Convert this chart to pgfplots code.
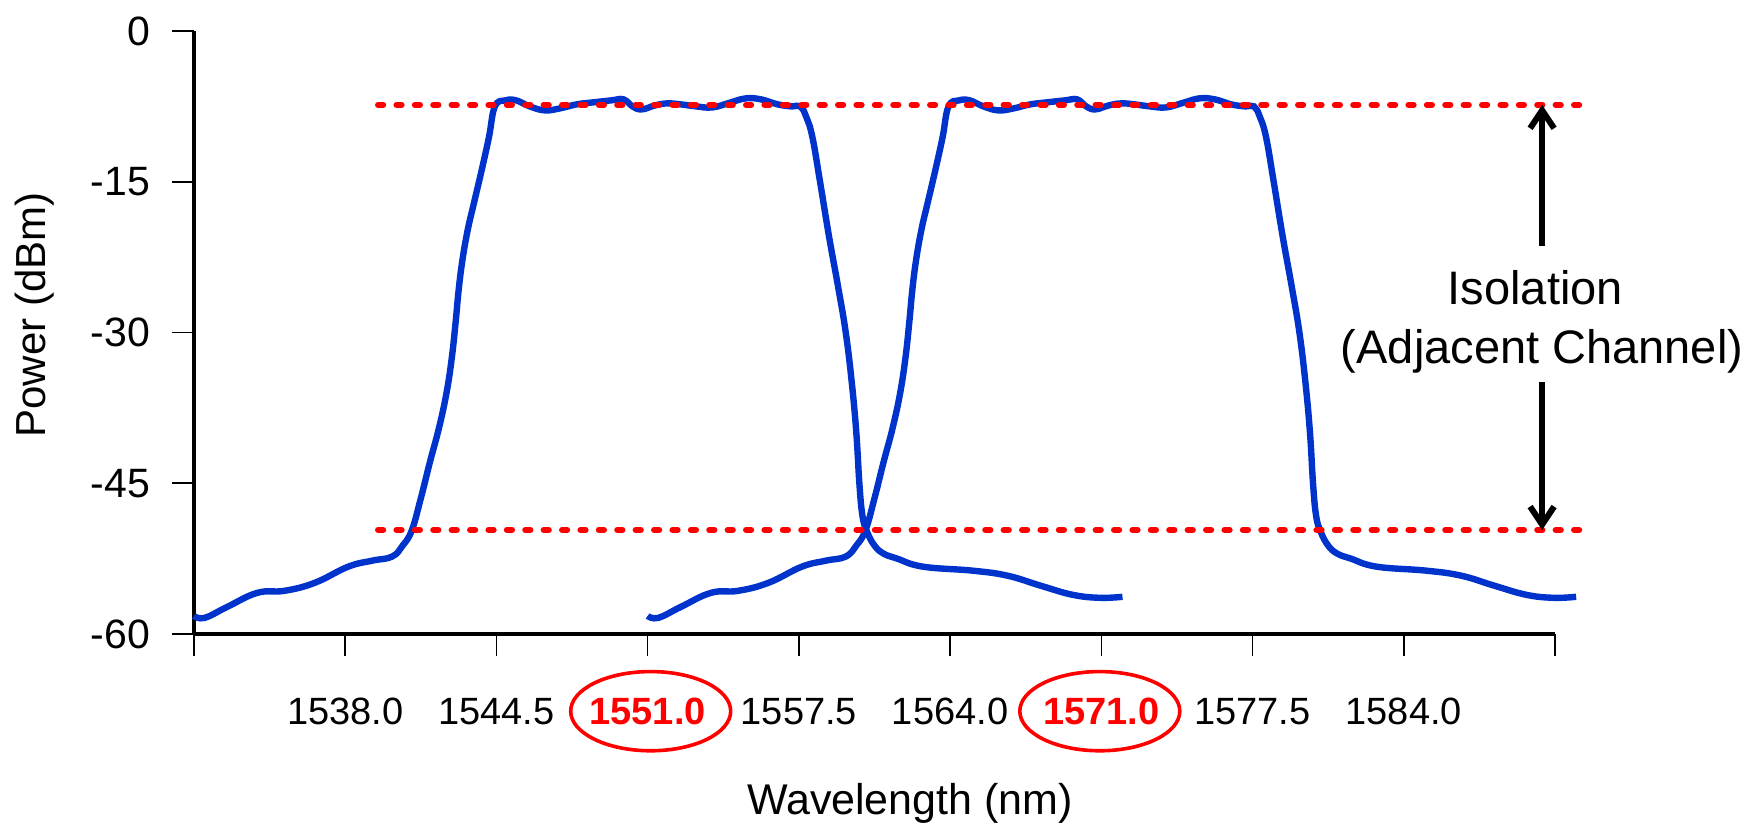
\documentclass[border=0pt]{standalone}
\usepackage{fontspec}
\setmainfont{Liberation Sans}
\usepackage{pgfplots}
\pgfplotsset{compat=1.18}
\usepackage{pgfplotstable}
\usetikzlibrary{arrows.meta}
\definecolor{curveblue}{RGB}{0,51,204}

% channel spectrum, x in tick units (one unit per tick), y in dBm
\pgfplotstableread{
u db
0.00 -58.2
0.07 -58.4
0.22 -57.3
0.42 -55.9
0.60 -55.7
0.80 -54.9
1.02 -53.3
1.18 -52.7
1.31 -52.3
1.38 -51.2
1.44 -49.7
1.50 -46.5
1.56 -42.9
1.62 -39.5
1.67 -36.0
1.705 -32.5
1.73 -29.0
1.75 -25.8
1.775 -22.8
1.81 -19.8
1.85 -17.2
1.90 -14.0
1.95 -10.6
1.99 -7.5
2.06 -6.9
2.13 -6.9
2.22 -7.5
2.32 -7.9
2.42 -7.7
2.53 -7.3
2.64 -7.1
2.76 -6.9
2.84 -6.8
2.90 -7.5
2.96 -7.8
3.05 -7.4
3.13 -7.2
3.22 -7.3
3.32 -7.5
3.43 -7.6
3.55 -7.1
3.65 -6.7
3.75 -6.8
3.86 -7.3
3.95 -7.5
4.01 -7.5
4.05 -8.6
4.09 -10.6
4.14 -15.0
4.20 -20.5
4.26 -25.5
4.31 -30.0
4.35 -35.0
4.38 -40.0
4.40 -45.0
4.42 -48.2
4.45 -49.8
4.50 -51.2
4.56 -52.0
4.65 -52.5
4.82 -53.3
5.15 -53.7
5.38 -54.2
5.60 -55.2
5.81 -56.1
5.99 -56.4
6.14 -56.3
}\chA

\begin{document}
\begin{tikzpicture}
\begin{axis}[
  at={(0,0)}, anchor=south west,
  scale only axis, width=340.25pt, height=150.75pt,
  xmin=0, xmax=9, ymin=-60, ymax=0,
  axis x line*=bottom, axis y line*=left,
  axis line style={line width=1pt, -},
  tick align=outside, major tick length=5.5pt,
  tick style={line width=0.4pt, black},
  xtick={0,1,2,3,4,5,6,7,8,9},
  xticklabels={,1538.0,1544.5,{\bfseries\color{red}1551.0},1557.5,1564.0,{\bfseries\color{red}1571.0},1577.5,1584.0,},
  ytick={-60,-45,-30,-15,0},
  yticklabels={-60,-45,-30,-15,0},
  x tick label style={font=\fontsize{9.5}{11}\selectfont, anchor=base, inner sep=0pt, yshift=-17.2pt},
  y tick label style={font=\fontsize{10.25}{12}\selectfont, anchor=east, inner sep=0pt, xshift=-5.3pt},
  clip=false,
  xlabel={Wavelength (nm)}, ylabel={Power (dBm)},
  xlabel style={at={(axis description cs:0.5261,-0.2803)}, anchor=center, inner sep=0pt, font=\fontsize{10.75}{12}\selectfont},
  ylabel style={at={(axis description cs:-0.1168,0.529)}, anchor=center, inner sep=0pt, font=\fontsize{10.5}{12}\selectfont},
]
\addplot[curveblue, line width=1.6pt, smooth, tension=0.7] table[x=u, y=db] {\chA};
\addplot[curveblue, line width=1.6pt, smooth, tension=0.7] table[x expr=\thisrow{u}+3, y=db] {\chA};

\draw[red, line width=1.5pt, line cap=round, dash pattern=on 1.3pt off 3.3pt] (axis cs:1.217,-7.35) -- (axis cs:9.19,-7.35);
\draw[red, line width=1.5pt, line cap=round, dash pattern=on 1.3pt off 3.3pt] (axis cs:1.217,-49.65) -- (axis cs:9.19,-49.65);

\draw[black, line width=1.5pt, -{Straight Barb[length=4.5pt,width=6pt]}] (axis cs:8.915,-21.35) -- (axis cs:8.915,-7.35);
\draw[black, line width=1.5pt, -{Straight Barb[length=4.5pt,width=6pt]}] (axis cs:8.915,-34.96) -- (axis cs:8.915,-49.65);

\node[anchor=base, inner sep=0pt, font=\fontsize{11.75}{14}\selectfont] at (axis cs:8.87,-27.21) {Isolation};
\node[anchor=base, inner sep=0pt, font=\fontsize{11.75}{14}\selectfont] at (axis cs:8.915,-33.07) {(Adjacent Channel)};

\draw[red, line width=0.9pt] (axis cs:3.02,-67.68) ellipse [x radius=20pt, y radius=9.9pt];
\draw[red, line width=0.9pt] (axis cs:5.99,-67.68) ellipse [x radius=20pt, y radius=9.9pt];
\end{axis}
\pgfresetboundingbox
\path (-48.5pt,-49.5pt) rectangle (389pt,158.5pt);
\end{tikzpicture}
\end{document}
